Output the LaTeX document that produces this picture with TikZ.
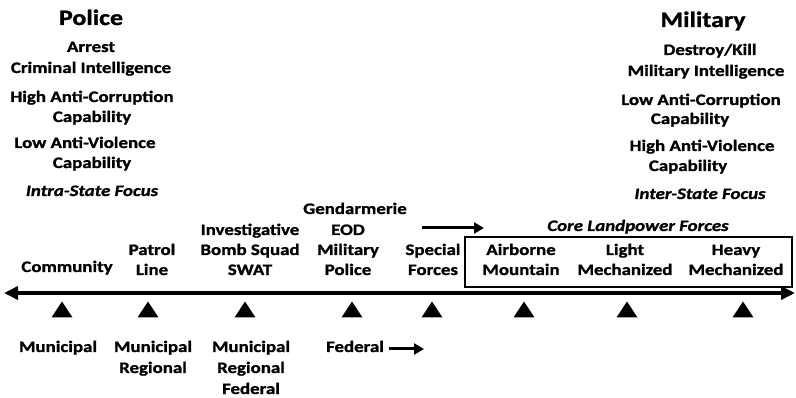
\documentclass[tikz,border=0pt]{standalone}
\usepackage{fontspec}
\setmainfont{Carlito}[FakeStretch=1.18, BoldFeatures={FakeBold=1.2}, BoldItalicFeatures={FakeBold=1.2}]
\usetikzlibrary{arrows.meta}
\begin{document}
\begin{tikzpicture}[x=1pt,y=-1pt,
  lbl/.style={font=\fontsize{16}{19}\selectfont\bfseries, anchor=base, inner sep=0pt},
  ttl/.style={font=\fontsize{22}{26}\selectfont\bfseries, anchor=base, inner sep=0pt},
  foc/.style={font=\fontsize{16}{19}\selectfont\bfseries\itshape, anchor=base, inner sep=0pt},
  axisline/.style={line width=3.5pt, {Triangle[length=14pt,width=13pt]}-{Triangle[length=14pt,width=13pt]}},
  thinarrow/.style={line width=3pt, -{Triangle[length=10pt,width=11pt]}},
  corebox/.style={draw, line width=1.8pt, minimum width=327pt, minimum height=50pt, inner sep=0pt}
]
\useasboundingbox (0,0) rectangle (796,398);

% left column
\node[ttl] (police) at (91,25) {Police};
\node[lbl] (arrest) at (91,52) {Arrest};
\node[lbl] (crim) at (91,73) {Criminal Intelligence};
\node[lbl] (hac) at (92,102) {High Anti-Corruption};
\node[lbl] (cap1) at (92,122) {Capability};
\node[lbl] (lav) at (85,148) {Low Anti-Violence};
\node[lbl] (cap2) at (92,168) {Capability};
\node[foc] (intra) at (92,196) {Intra-State Focus};

% right column
\node[ttl] (military) at (703,27) {Military};
\node[lbl] (destroy) at (710,55) {Destroy/Kill};
\node[lbl] (milint) at (706,76) {Military Intelligence};
\node[lbl] (lac) at (701,105) {Low Anti-Corruption};
\node[lbl] (cap3) at (690,124) {Capability};
\node[lbl] (hav) at (702,151) {High Anti-Violence};
\node[lbl] (cap4) at (688,171) {Capability};
\node[foc] (inter) at (700,199) {Inter-State Focus};

% labels above the axis
\node[lbl] (community) at (67,272) {Community};
\node[lbl] (patrol) at (152,255) {Patrol};
\node[lbl] (line) at (152,275) {Line};
\node[lbl] (invest) at (250,235) {Investigative};
\node[lbl] (bomb) at (250,255) {Bomb Squad};
\node[lbl] (swat) at (250,275) {SWAT};
\node[lbl] (gend) at (355,214) {Gendarmerie};
\node[lbl] (eod) at (348,235) {EOD};
\node[lbl] (milit) at (348,255) {Military};
\node[lbl] (mpol) at (348,275) {Police};
\node[lbl] (special) at (433,255) {Special};
\node[lbl] (forces) at (433,275) {Forces};
\node[lbl] (airborne) at (521,255) {Airborne};
\node[lbl] (mountain) at (521,275) {Mountain};
\node[lbl] (light) at (625,255) {Light};
\node[lbl] (mech1) at (625,275) {Mechanized};
\node[lbl] (heavy) at (736,255) {Heavy};
\node[lbl] (mech2) at (736,275) {Mechanized};
\node[foc] (core) at (638,231) {Core Landpower Forces};
\node[corebox] (box) at (628.5,262) {};

\coordinate (sa1) at (422,228);
\coordinate (sa2) at (484,228);
\draw[thinarrow] (sa1) -- (sa2);

% axis
\coordinate (axL) at (4,293);
\coordinate (axR) at (795,293);
\draw[axisline] (axL) -- (axR);

% triangles
\foreach \x in {62,148,245,352,432,524,627,743}
  \fill (\x-10.5,317.5) -- (\x+10.5,317.5) -- (\x,301.5) -- cycle;

% labels below
\node[lbl] (mun1) at (58,352) {Municipal};
\node[lbl] (mun2) at (153,352) {Municipal};
\node[lbl] (reg2) at (153,373) {Regional};
\node[lbl] (mun3) at (251,352) {Municipal};
\node[lbl] (reg3) at (251,373) {Regional};
\node[lbl] (fed3) at (251,394) {Federal};
\node[lbl] (fed4) at (355,352) {Federal};
\coordinate (fa1) at (389,349);
\coordinate (fa2) at (424,349);
\draw[thinarrow] (fa1) -- (fa2);
\end{tikzpicture}
\end{document}
